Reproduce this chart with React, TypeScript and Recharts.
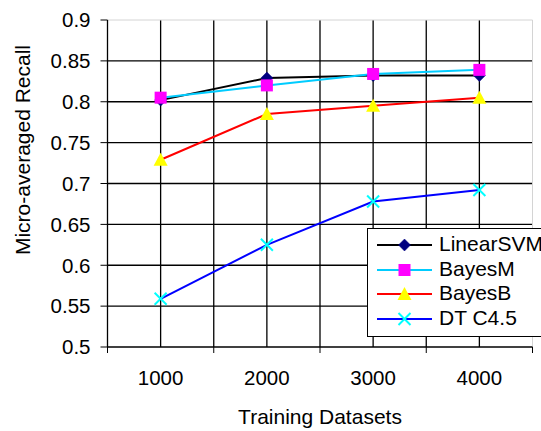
import React from 'react';
import { LineChart, Line, XAxis, YAxis, CartesianGrid, ReferenceLine, Legend } from 'recharts';

const trainingSizes = [1000, 2000, 3000, 4000];
const xLabels = ['1000', '2000', '3000', '4000'];
const xBoundaryTicks = [500, 1500, 2500, 3500, 4500];
const yTicks = [0.5, 0.55, 0.6, 0.65, 0.7, 0.75, 0.8, 0.85, 0.9];

const linearSVM = [0.802, 0.829, 0.832, 0.832];
const bayesM = [0.805, 0.82, 0.834, 0.839];
const bayesB = [0.729, 0.785, 0.795, 0.805];
const dtC45 = [0.559, 0.625, 0.678, 0.692];

const seriesNames = ['LinearSVM', 'BayesM', 'BayesB', 'DT C4.5'];

const FONT = '"Liberation Sans", Arial, sans-serif';

const data = trainingSizes.map((x, i) => ({
  x,
  linearSVM: linearSVM[i],
  bayesM: bayesM[i],
  bayesB: bayesB[i],
  dtC45: dtC45[i],
}));

const allXTicks = [...xBoundaryTicks, ...trainingSizes].sort((a, b) => a - b);

type MarkerType = 'diamond' | 'square' | 'triangle' | 'x';

const Marker = ({ type, cx, cy }: { type: MarkerType; cx: number; cy: number }) => {
  if (type === 'diamond') {
    return <polygon points={`${cx},${cy - 6} ${cx + 6},${cy} ${cx},${cy + 6} ${cx - 6},${cy}`} fill="#000080" stroke="#000080" strokeWidth={0.5} />;
  }
  if (type === 'square') {
    return <rect x={cx - 6} y={cy - 6} width={12} height={12} fill="#FF00FF" />;
  }
  if (type === 'triangle') {
    return <polygon points={`${cx},${cy - 7} ${cx + 7},${cy + 6} ${cx - 7},${cy + 6}`} fill="#FFFF00" />;
  }
  return (
    <g stroke="#00FFFF" strokeWidth={2}>
      <line x1={cx - 6} y1={cy - 6} x2={cx + 6} y2={cy + 6} />
      <line x1={cx - 6} y1={cy + 6} x2={cx + 6} y2={cy - 6} />
    </g>
  );
};

const seriesStyle: { key: string; color: string; marker: MarkerType }[] = [
  { key: 'linearSVM', color: '#000000', marker: 'diamond' },
  { key: 'bayesM', color: '#00CCFF', marker: 'square' },
  { key: 'bayesB', color: '#FF0000', marker: 'triangle' },
  { key: 'dtC45', color: '#0000FF', marker: 'x' },
];

const XTick = (props: any) => {
  const { x, y, payload } = props;
  const v = payload.value;
  const idx = trainingSizes.indexOf(v);
  if (idx >= 0) {
    return (
      <text x={x} y={y + 38} textAnchor="middle" fontSize={20.5} fontFamily={FONT} fill="#000">
        {xLabels[idx]}
      </text>
    );
  }
  return <line x1={x} x2={x} y1={y} y2={y + 6} stroke="#000" strokeWidth={1} />;
};

const YTitle = () => (
  <text
    x={22}
    y={150}
    transform="rotate(-90 22 150)"
    textAnchor="middle"
    dominantBaseline="central"
    fontSize={21}
    fontFamily={FONT}
    fill="#000"
  >
    Micro-averaged Recall
  </text>
);

const LegendBox = () => (
  <div
    style={{
      border: '1px solid #000',
      background: '#fff',
      paddingTop: 4,
      paddingBottom: 5,
      width: 190,
      boxSizing: 'border-box',
      fontFamily: FONT,
      fontSize: 21,
      color: '#000',
    }}
  >
    {seriesStyle.map((s, i) => (
      <div key={s.key} style={{ display: 'flex', alignItems: 'center', height: 24.5 }}>
        <svg width={69} height={24} style={{ display: 'block', flex: 'none' }}>
          <line x1={9} x2={64} y1={12} y2={12} stroke={s.color} strokeWidth={2} />
          <Marker type={s.marker} cx={36.5} cy={12} />
        </svg>
        <span style={{ marginLeft: 2, lineHeight: '24.5px', whiteSpace: 'nowrap', position: 'relative', top: -1 }}>
          {seriesNames[i]}
        </span>
      </div>
    ))}
  </div>
);

export default function App() {
  return (
    <div style={{ position: 'absolute', left: 0, top: 0, width: 541, height: 431, overflow: 'hidden', background: '#fff' }}>
      <LineChart width={541} height={431} data={data} margin={{ top: 20, right: 8.5, left: 0, bottom: 0 }}>
        <CartesianGrid
          stroke="#000"
          strokeWidth={1.3}
          horizontalValues={[0.55, 0.6, 0.65, 0.7, 0.75, 0.8, 0.85]}
          verticalValues={[1000, 1500, 2000, 2500, 3000, 3500, 4000]}
        />
        <ReferenceLine y={0.9} stroke="#d4d4d4" strokeWidth={1} />
        <ReferenceLine x={4500} stroke="#d4d4d4" strokeWidth={1} />
        <XAxis
          dataKey="x"
          type="number"
          domain={[500, 4500]}
          ticks={allXTicks}
          interval={0}
          tickLine={false}
          tickSize={0}
          tickMargin={0}
          tick={<XTick />}
          height={84}
          axisLine={{ stroke: '#000', strokeWidth: 1.3 }}
          label={{ value: 'Training Datasets', position: 'insideBottom', offset: 7, fontSize: 21, fontFamily: FONT, fill: '#000' }}
        />
        <YAxis
          type="number"
          domain={[0.5, 0.9]}
          ticks={yTicks}
          interval={0}
          width={107.5}
          tickSize={7}
          tickMargin={10}
          tickFormatter={(v: number) => String(v)}
          tick={{ fontSize: 20.5, fontFamily: FONT, fill: '#000' }}
          tickLine={{ stroke: '#000' }}
          axisLine={{ stroke: '#000', strokeWidth: 1.3 }}
          label={<YTitle />}
        />
        {seriesStyle.map((s) => (
          <Line
            key={s.key}
            type="linear"
            dataKey={s.key}
            stroke={s.color}
            strokeWidth={2}
            isAnimationActive={false}
            activeDot={false}
            dot={(p: any) => <Marker key={`${s.key}-${p.index}`} type={s.marker} cx={p.cx} cy={p.cy} />}
          />
        ))}
        <Legend
          layout="vertical"
          align="center"
          verticalAlign="middle"
          content={<LegendBox />}
          wrapperStyle={{ left: 367, top: 228, width: 190, height: 'auto' }}
        />
      </LineChart>
    </div>
  );
}
